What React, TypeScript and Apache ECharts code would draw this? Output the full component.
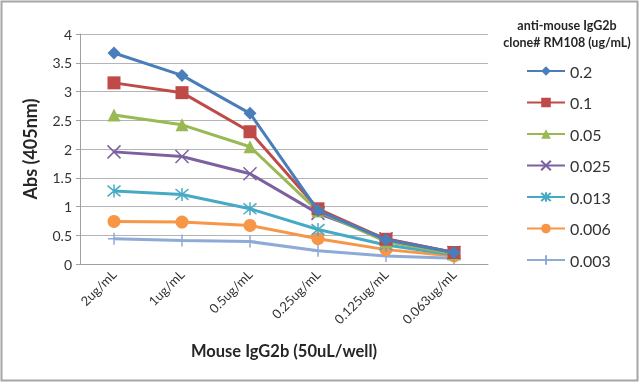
import React, { useEffect, useRef } from "react";
import * as echarts from "echarts";

const categories = ["2ug/mL", "1ug/mL", "0.5ug/mL", "0.25ug/mL", "0.125ug/mL", "0.063ug/mL"];
const seriesNames = ["0.2", "0.1", "0.05", "0.025", "0.013", "0.006", "0.003"];
const s02 = [3.67, 3.28, 2.62, 0.93, 0.42, 0.2];
const s01 = [3.15, 2.98, 2.3, 0.96, 0.43, 0.2];
const s005 = [2.59, 2.42, 2.04, 0.92, 0.39, 0.18];
const s0025 = [1.95, 1.87, 1.57, 0.88, 0.44, 0.2];
const s0013 = [1.27, 1.21, 0.96, 0.6, 0.33, 0.16];
const s0006 = [0.74, 0.73, 0.67, 0.44, 0.25, 0.14];
const s0003 = [0.44, 0.41, 0.39, 0.23, 0.14, 0.1];
const yTicks = [0, 0.5, 1, 1.5, 2, 2.5, 3, 3.5, 4];

const colors = ["#4a7ebb", "#be4b48", "#98b954", "#7d60a0", "#46aac5", "#f79646", "#8eaad6"];
const symbols = [
  "diamond",
  "rect",
  "triangle",
  "path://M0 0 L10 10 M10 0 L0 10",
  "path://M0 0 L10 10 M10 0 L0 10 M5 -1 L5 11",
  "circle",
  "path://M5 0 L5 10 M0 5 L10 5",
];
const symbolSizes = [13, 13, 13, 13, 13, 13, 12];

export default function App() {
  const ref = useRef<HTMLDivElement>(null);
  useEffect(() => {
    if (!ref.current) return;
    const chart = echarts.init(ref.current, null, { renderer: "svg" });
    const data = [s02, s01, s005, s0025, s0013, s0006, s0003];
    const font = "Lato, 'Open Sans', sans-serif";
    chart.setOption({
      animation: false,
      textStyle: { fontFamily: font },
      grid: { left: 80, right: 152, top: 34, bottom: 120 },
      graphic: [
        {
          type: "rect",
          shape: { x: 1.5, y: 1.5, width: 636, height: 379 },
          style: { fill: "none", stroke: "#a6a6a6", lineWidth: 2 },
          silent: true,
        },
        {
          type: "text",
          x: 567,
          y: 17,
          style: {
            text: "anti-mouse IgG2b\nclone# RM108 (ug/mL)",
            align: "center",
            fontSize: 12.5,
            fontWeight: "bold",
            lineHeight: 17,
            fontFamily: font,
            fill: "#262626",
          },
        },
      ],
      legend: {
        orient: "vertical",
        left: 521,
        top: 58,
        itemWidth: 38,
        itemHeight: 12,
        itemGap: 15.5,
        data: seriesNames,
        textStyle: { fontSize: 16, color: "#333", fontFamily: font },
      },
      xAxis: {
        type: "category",
        data: categories,
        boundaryGap: true,
        axisLine: { lineStyle: { color: "#a0a0a0" } },
        axisTick: { show: false },
        axisLabel: { rotate: 45, fontSize: 13, color: "#333", margin: 8, interval: 0 },
        name: "Mouse IgG2b (50uL/well)",
        nameLocation: "middle",
        nameGap: 78,
        nameTextStyle: { fontSize: 16.5, fontWeight: "bold", color: "#262626" },
      },
      yAxis: {
        type: "value",
        min: 0,
        max: 4,
        interval: 0.5,
        axisLine: { show: true, lineStyle: { color: "#a0a0a0" } },
        axisTick: { show: true, length: 4, lineStyle: { color: "#a0a0a0" } },
        splitLine: { lineStyle: { color: "#b4b4b4" } },
        axisLabel: {
          fontSize: 14,
          color: "#333",
          margin: 8,
          formatter: (v: number) => (yTicks.includes(v) ? String(v) : ""),
        },
        name: "Abs (405nm)",
        nameLocation: "middle",
        nameRotate: 90,
        nameGap: 41,
        nameTextStyle: { fontSize: 18, fontWeight: "bold", color: "#262626" },
      },
      series: seriesNames.map((n, i) => ({
        name: n,
        type: "line",
        data: data[i],
        symbol: symbols[i],
        symbolSize: symbolSizes[i],
        showSymbol: true,
        z: 10 - i,
        lineStyle: { color: colors[i], width: 3 },
        itemStyle: {
          color: colors[i],
          borderColor: colors[i],
          borderWidth: i === 3 || i === 4 || i === 6 ? 1.5 : 0,
        },
      })),
    });
    return () => chart.dispose();
  }, []);
  return (
    <div
      ref={ref}
      style={{ position: "fixed", left: 0, top: 0, width: 640, height: 384 }}
    />
  );
}
